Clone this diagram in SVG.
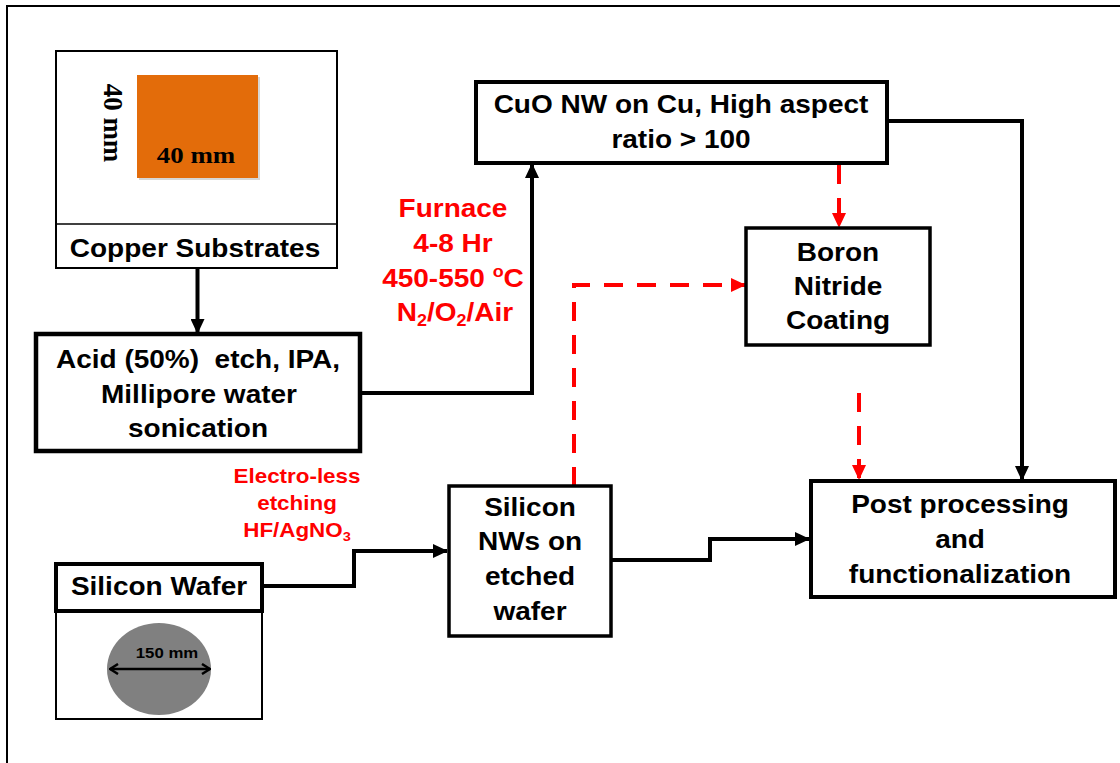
<svg xmlns="http://www.w3.org/2000/svg" width="1120" height="763" viewBox="0 0 1120 763">
<style>
.t{font-family:"Liberation Sans",Arial,sans-serif;font-weight:bold;font-size:25px;fill:#000;text-anchor:middle}
.r{fill:#FF0000}
.s{font-size:20px}
.tm{font-family:"Liberation Serif","Times New Roman",serif;font-weight:bold;font-size:24px;fill:#000;text-anchor:middle}
.box{fill:#fff;stroke:#000;stroke-width:4}
.thin{fill:#fff;stroke:#000;stroke-width:2}
.c{fill:none;stroke:#000;stroke-width:4}
.d{fill:none;stroke:#FF0000;stroke-width:4;stroke-dasharray:19 14}
</style>
<defs>
<marker id="ab" markerUnits="userSpaceOnUse" markerWidth="15" markerHeight="14" refX="14" refY="7" orient="auto"><path d="M0,0 L15,7 L0,14 z" fill="#000"/></marker>
<marker id="ar" markerUnits="userSpaceOnUse" markerWidth="15" markerHeight="14" refX="14" refY="7" orient="auto"><path d="M0,0 L15,7 L0,14 z" fill="#FF0000"/></marker>
<marker id="ao" markerUnits="userSpaceOnUse" markerWidth="10" markerHeight="12" refX="9" refY="6" orient="auto"><path d="M1,1 L9,6 L1,11" fill="none" stroke="#000" stroke-width="2.5"/></marker>
<marker id="aos" markerUnits="userSpaceOnUse" markerWidth="10" markerHeight="12" refX="1" refY="6" orient="auto"><path d="M9,1 L1,6 L9,11" fill="none" stroke="#000" stroke-width="2.5"/></marker>
</defs>
<rect width="1120" height="763" fill="#fff"/>
<path d="M7,763 V6 H1120" fill="none" stroke="#000" stroke-width="2"/>

<g id="connectors">
<path class="c" d="M197.5,268 V333" marker-end="url(#ab)"/>
<path class="c" d="M360,393 H532 V164" marker-end="url(#ab)"/>
<path class="c" d="M887,121 H1022 V480" marker-end="url(#ab)"/>
<path class="c" d="M262,586 H354 V551 H447" marker-end="url(#ab)"/>
<path class="c" d="M612,560 H710 V539 H809" marker-end="url(#ab)"/>
<path class="d" d="M839,165 V227" marker-end="url(#ar)"/>
<path class="d" d="M574,486 V285 H745" marker-end="url(#ar)"/>
<path class="d" d="M859,393 V479" marker-end="url(#ar)"/>
</g>

<g id="copper">
<rect class="thin" x="56" y="51" width="281" height="217"/>
<line x1="56" y1="224" x2="337" y2="224" stroke="#000" stroke-width="1.5"/>
<rect x="139" y="77" width="121" height="103" fill="#bbb" opacity="0.6"/>
<rect x="137" y="75" width="121" height="103" fill="#E36C0A"/>
<text class="tm" transform="translate(196,163) scale(1.12,1)">40 mm</text>
<text class="tm" transform="translate(104,123) scale(1.15,1.12) rotate(90)">40 mm</text>
<text class="t" transform="translate(195,257) scale(1.12,1)">Copper Substrates</text>
</g>

<g id="acid">
<rect x="36" y="334" width="324" height="117" fill="#fff" stroke="#000" stroke-width="4.5"/>
<text class="t" transform="translate(198,368) scale(1.12,1)" xml:space="preserve">Acid (50%)  etch, IPA,</text>
<text class="t" transform="translate(199,403) scale(1.12,1)">Millipore water</text>
<text class="t" transform="translate(198,437) scale(1.12,1)">sonication</text>
</g>

<g id="furnace-label">
<text class="t r" transform="translate(453,217) scale(1.12,1)">Furnace</text>
<text class="t r" transform="translate(453,252) scale(1.12,1)">4-8 Hr</text>
<text class="t r" transform="translate(453,287) scale(1.12,1)">450-550 <tspan font-size="16" dy="-10">o</tspan><tspan dy="10">C</tspan></text>
<text class="t r" transform="translate(455,321) scale(1.12,1)">N<tspan font-size="16" dy="5">2</tspan><tspan dy="-5">/O</tspan><tspan font-size="16" dy="5">2</tspan><tspan dy="-5">/Air</tspan></text>
</g>

<g id="cuo">
<rect class="box" x="476" y="82" width="411" height="81"/>
<text class="t" transform="translate(681,113) scale(1.12,1)">CuO NW on Cu, High aspect</text>
<text class="t" transform="translate(681,148) scale(1.12,1)">ratio &gt; 100</text>
</g>

<g id="boron">
<rect x="746" y="228" width="184" height="117" fill="#fff" stroke="#000" stroke-width="3.5"/>
<text class="t" transform="translate(838,261) scale(1.12,1)">Boron</text>
<text class="t" transform="translate(838,295) scale(1.12,1)">Nitride</text>
<text class="t" transform="translate(838,329) scale(1.12,1)">Coating</text>
</g>

<g id="etch-label">
<text class="t r s" transform="translate(297,483) scale(1.12,1)">Electro-less</text>
<text class="t r s" transform="translate(297,510) scale(1.12,1)">etching</text>
<text class="t r s" transform="translate(297,537) scale(1.12,1)">HF/AgNO<tspan font-size="13" dy="4">3</tspan></text>
</g>

<g id="wafer">
<rect class="thin" x="56" y="611" width="206" height="108"/>
<rect class="box" x="56" y="564" width="206" height="47"/>
<text class="t" transform="translate(159,595) scale(1.12,1)">Silicon Wafer</text>
<ellipse cx="159" cy="669" rx="52" ry="46" fill="#808080"/>
<line x1="110" y1="669" x2="210" y2="669" stroke="#000" stroke-width="2.5" marker-start="url(#aos)" marker-end="url(#ao)"/>
<text class="t" style="font-size:15px" transform="translate(167,658) scale(1.12,1)">150 mm</text>
</g>

<g id="sinw">
<rect x="449" y="486" width="162" height="150" fill="#fff" stroke="#000" stroke-width="3.5"/>
<text class="t" transform="translate(530,516) scale(1.12,1)">Silicon</text>
<text class="t" transform="translate(530,550) scale(1.12,1)">NWs on</text>
<text class="t" transform="translate(530,585) scale(1.12,1)">etched</text>
<text class="t" transform="translate(530,620) scale(1.12,1)">wafer</text>
</g>

<g id="post">
<rect class="box" x="811" y="481" width="304" height="116"/>
<text class="t" transform="translate(960,513) scale(1.12,1)">Post processing</text>
<text class="t" transform="translate(960,548) scale(1.12,1)">and</text>
<text class="t" transform="translate(960,583) scale(1.12,1)">functionalization</text>
</g>
</svg>
